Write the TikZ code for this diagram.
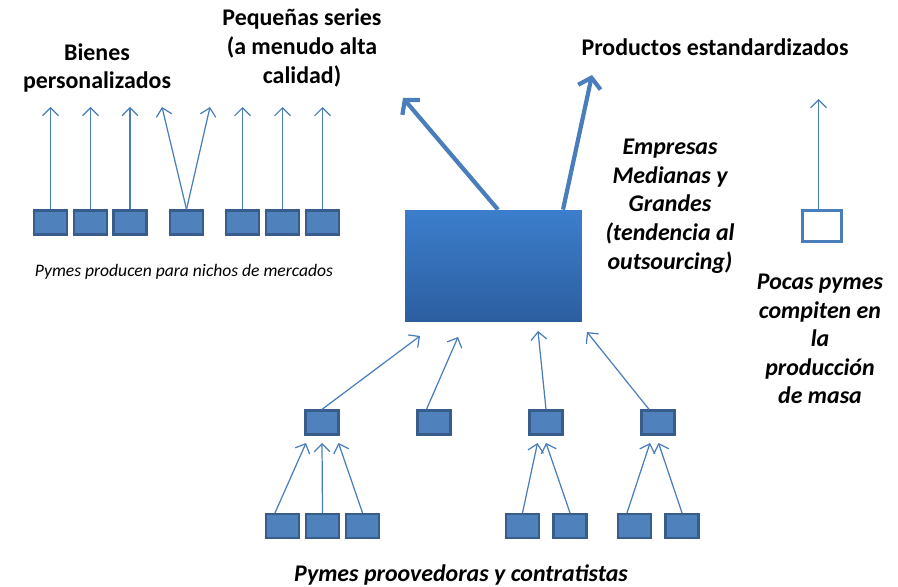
\documentclass[tikz,border=0pt]{standalone}
\usepackage{fontspec}
\setmainfont{Carlito}
\usetikzlibrary{arrows.meta}

\definecolor{pymeazul}{RGB}{79,129,189}
\definecolor{pymeborde}{RGB}{56,93,138}
\definecolor{flechaazul}{RGB}{74,126,187}

\tikzset{
  pyme/.style={draw=pymeborde, fill=pymeazul, line width=1.3pt,
    minimum width=0.66cm, minimum height=0.48cm, inner sep=0pt},
  masa/.style={draw=flechaazul, fill=white, line width=1.3pt,
    minimum width=0.78cm, minimum height=0.62cm, inner sep=0pt},
  flecha/.style={draw=flechaazul, line width=0.7pt,
    -{Straight Barb[length=4.5pt,width=9pt]}},
  flechagrande/.style={draw=flechaazul, line width=2.4pt,
    -{Straight Barb[length=5.5pt,width=13pt]}},
  titulo/.style={align=center, font=\bfseries\fontsize{13.6}{16.3}\selectfont},
  tituloit/.style={align=center, font=\bfseries\itshape\fontsize{13.6}{16.3}\selectfont}
}

\begin{document}
\begin{tikzpicture}[x=0.02cm, y=-0.02cm]
    \useasboundingbox (0,0) rectangle (898,587);

    % empresas medianas y grandes
    \node [draw=none, top color={rgb,255:red,60;green,126;blue,204},
      bottom color={rgb,255:red,44;green,94;blue,160},
      minimum width=3.54cm, minimum height=2.24cm, inner sep=0pt] (grande) at (493.5,266) {};

    % nichos de mercado
    \node [pyme] (n1) at (50.5,222.5) {};
    \node [pyme] (n2) at (90.5,222.5) {};
    \node [pyme] (n3) at (130,222.5) {};
    \node [pyme] (n4) at (186.5,222.5) {};
    \node [pyme] (n5) at (242.5,222.5) {};
    \node [pyme] (n6) at (282.5,222.5) {};
    \node [pyme] (n7) at (322.5,222.5) {};
    \coordinate (a1) at (50.5,107);
    \coordinate (a2) at (90.5,107);
    \coordinate (a3) at (130,107);
    \coordinate (a4) at (162,107);
    \coordinate (a5) at (210,107);
    \coordinate (a6) at (242.5,107);
    \coordinate (a7) at (282.5,107);
    \coordinate (a8) at (322.5,107);
    \draw [flecha] (n1.north) -- (a1);
    \draw [flecha] (n2.north) -- (a2);
    \draw [flecha] (n3.north) -- (a3);
    \draw [flecha] (n4.north) -- (a4);
    \draw [flecha] (n4.north) -- (a5);
    \draw [flecha] (n5.north) -- (a6);
    \draw [flecha] (n6.north) -- (a7);
    \draw [flecha] (n7.north) -- (a8);

    % flechas grandes
    \coordinate (g1) at (403,98);
    \coordinate (g2) at (592,75);
    \draw [flechagrande] ([xshift=0.09cm]grande.north) -- (g1);
    \draw [flechagrande] ([xshift=1.39cm]grande.north) -- (g2);

    % produccion de masa
    \node [masa] (m1) at (822,226) {};
    \coordinate (a9) at (818.5,99);
    \draw [flecha] (m1.north -| a9) -- (a9);

    % proveedores
    \node [pyme] (p1) at (322,422.5) {};
    \node [pyme] (p2) at (434,422.5) {};
    \node [pyme] (p3) at (546,422.5) {};
    \node [pyme] (p4) at (658,422.5) {};
    \coordinate (b1) at (420,336);
    \coordinate (b2) at (458,337);
    \coordinate (b3) at (538,331);
    \coordinate (b4) at (587,332);
    \draw [flecha] (p1.north) -- (b1);
    \draw [flecha] ([xshift=-0.15cm]p2.north) -- (b2);
    \draw [flecha] (p3.north) -- (b3);
    \draw [flecha] ([xshift=-0.18cm]p4.north) -- (b4);

    % contratistas
    \node [pyme] (c1) at (282.5,526) {};
    \node [pyme] (c2) at (322.5,526) {};
    \node [pyme] (c3) at (362.5,526) {};
    \node [pyme] (c4) at (522.5,526) {};
    \node [pyme] (c5) at (570,526) {};
    \node [pyme] (c6) at (634.5,526) {};
    \node [pyme] (c7) at (682,526) {};
    \coordinate (d1) at (306,443);
    \coordinate (d2) at (322,443);
    \coordinate (d3) at (338.5,443);
    \coordinate (d4) at (537.5,443);
    \coordinate (d5) at (546,443);
    \coordinate (d6) at (650,443);
    \coordinate (d7) at (658.5,443);
    \draw [flecha] ([xshift=-0.15cm]c1.north) -- (d1);
    \draw [flecha] (c2.north) -- (d2);
    \draw [flecha] (c3.north) -- (d3);
    \draw [flecha] (c4.north) -- (d4);
    \draw [flecha] (c5.north) -- (d5);
    \draw [flecha] ([xshift=-0.15cm]c6.north) -- (d6);
    \draw [flecha] (c7.north) -- (d7);

    % textos
    \node [titulo] (bienes) at (97,68) {Bienes\\personalizados};
    \node [titulo] (series) at (302,48) {Pequeñas series\\(a menudo alta\\calidad)};
    \node [titulo] (estandar) at (715,47) {Productos estandardizados};
    \node [tituloit] (empresas) at (670,206) {Empresas\\Medianas y\\Grandes\\(tendencia al\\outsourcing)};
    \node [tituloit] (pocas) at (820,339) {Pocas pymes\\compiten en\\la\\producción\\de masa};
    \node [font=\itshape\fontsize{10}{12}\selectfont] (nichos) at (184,272) {Pymes producen para nichos de mercados};
    \node [font=\bfseries\itshape\fontsize{13.6}{16}\selectfont] (proveedoras) at (461,575) {Pymes proovedoras y contratistas};
\end{tikzpicture}
\end{document}
